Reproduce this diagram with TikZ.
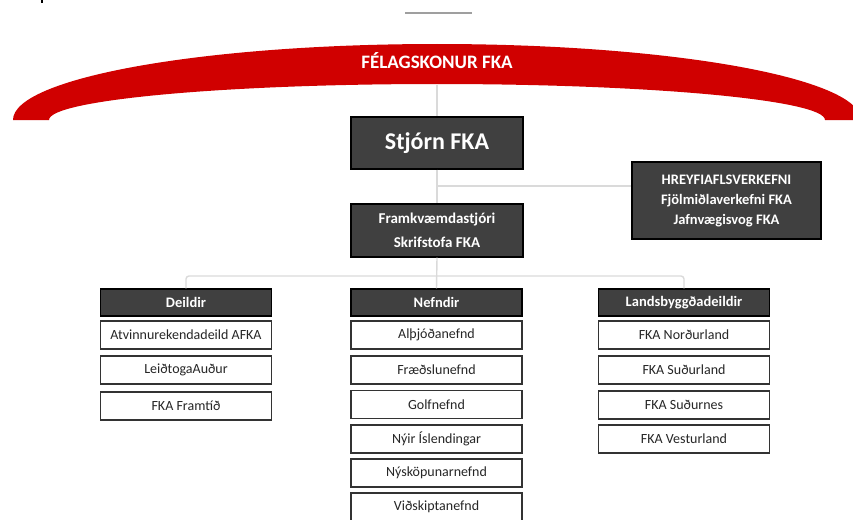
\documentclass[tikz,border=0pt]{standalone}
\usepackage{fontspec}
\setmainfont{Carlito}
\definecolor{arcred}{HTML}{D00000}
\definecolor{darkbox}{HTML}{404040}
\definecolor{conn}{HTML}{DADADA}
\definecolor{itemline}{HTML}{333333}
\begin{document}
\begin{tikzpicture}[x=1pt,y=-1pt,
  darkbox/.style={draw=black, line width=1.2pt, fill=darkbox, text=white, inner sep=0pt, align=center},
  headbox/.style={darkbox, minimum width=171pt, minimum height=27pt, font=\bfseries\fontsize{14.5}{16}\selectfont},
  itembox/.style={draw=itemline, line width=1.3pt, fill=white, text=black!85, minimum width=171pt, minimum height=28pt, inner sep=0pt, font=\fontsize{14}{16}\selectfont},
  connector/.style={draw=conn, line width=1.4pt}
]
\useasboundingbox (0,0) rectangle (853,519);
% top artefacts
\draw[black, line width=1.4pt] (42,0) -- (42,3);
\draw[gray!75, line width=2pt] (405,13) -- (472,13);
% red arc
\fill[arcred] (13,120) arc[start angle=180, end angle=0, x radius=424pt, y radius=76pt]
  -- (825,120) arc[start angle=0, end angle=180, x radius=388pt, y radius=36pt] -- cycle;
\node[text=white, font=\bfseries\fontsize{19}{22}\selectfont] (fel) at (437,61) {FÉLAGSKONUR FKA};
\coordinate (arcbot) at (437,85);
% main boxes
\node[darkbox, minimum width=172pt, minimum height=52pt, font=\bfseries\fontsize{24}{28}\selectfont] (stj) at (437,143) {Stjórn FKA};
\node[darkbox, minimum width=172pt, minimum height=53pt, font=\bfseries\fontsize{15}{24}\selectfont] (frk) at (437,230.5) {Framkvæmdastjóri\\Skrifstofa FKA};
\node[darkbox, minimum width=189pt, minimum height=77pt, font=\bfseries\fontsize{14.5}{20}\selectfont] (hre) at (726.5,200.5) {HREYFIAFLSVERKEFNI\\Fjölmiðlaverkefni FKA\\Jafnvægisvog FKA};
\coordinate (hbranch) at (437,186);
% headers
\node[headbox] (dei) at (186,302.5) {Deildir};
\node[headbox] (nef) at (436.5,302.5) {Nefndir};
\node[headbox] (lan) at (684,302.5) {Landsbyggðadeildir};
\coordinate (bus) at (437,276);
% items
\node[itembox] (d1) at (186,335) {Atvinnurekendadeild AFKA};
\node[itembox] (d2) at (186,370) {LeiðtogaAuður};
\node[itembox] (d3) at (186,406) {FKA Framtíð};
\node[itembox] (n1) at (436.5,335) {Alþjóðanefnd};
\node[itembox] (n2) at (436.5,370) {Fræðslunefnd};
\node[itembox] (n3) at (436.5,404.5) {Golfnefnd};
\node[itembox] (n4) at (436.5,439) {Nýir Íslendingar};
\node[itembox] (n5) at (436.5,473) {Nýsköpunarnefnd};
\node[itembox] (n6) at (436.5,507) {Viðskiptanefnd};
\node[itembox] (l1) at (684,335) {FKA Norðurland};
\node[itembox] (l2) at (684,370) {FKA Suðurland};
\node[itembox] (l3) at (684,405) {FKA Suðurnes};
\node[itembox] (l4) at (684,439) {FKA Vesturland};
% connectors
\draw[connector] (arcbot) -- (stj.north);
\draw[connector] (stj.south) -- (frk.north);
\draw[connector] (hbranch) -- (hbranch -| hre.west);
\draw[connector] (frk.south) -- (nef.north);
\draw[connector, rounded corners=3pt] (dei.north) |- (bus) -| (lan.north);
\end{tikzpicture}
\end{document}
